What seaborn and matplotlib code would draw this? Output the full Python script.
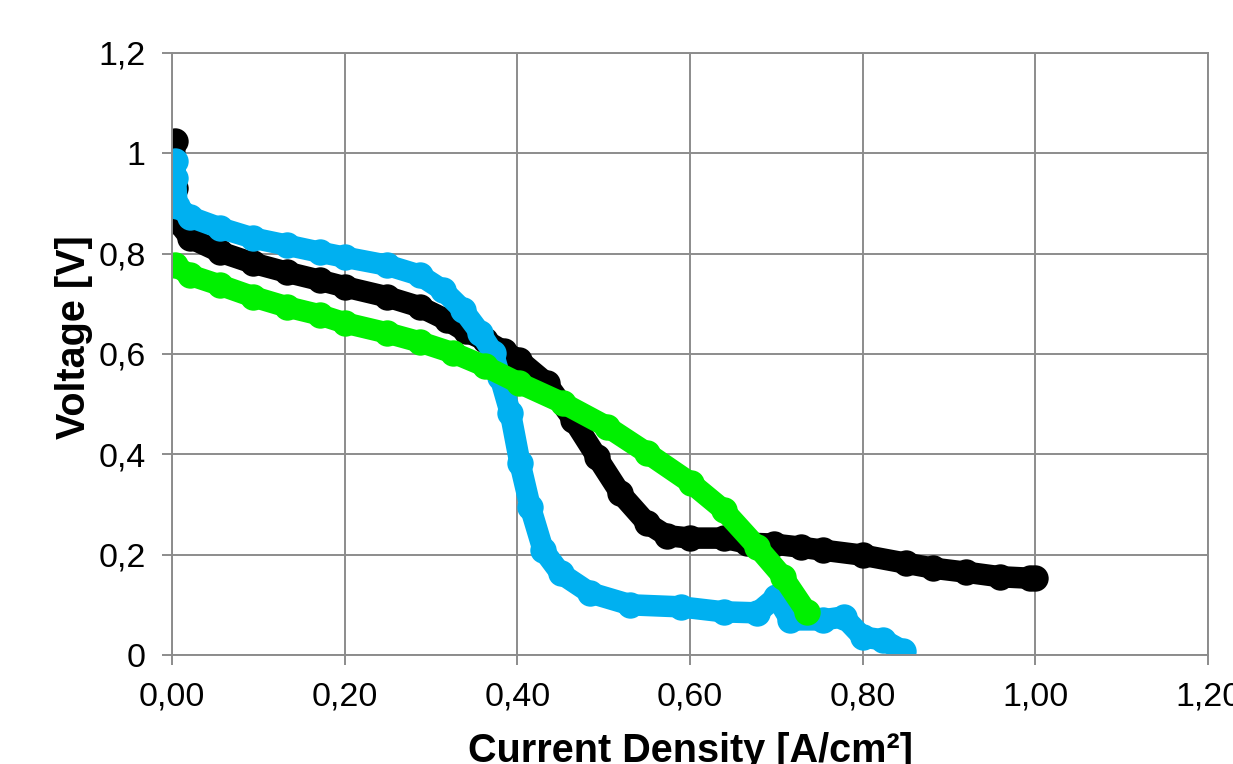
import pandas as pd
import matplotlib
matplotlib.use('Agg')
import matplotlib.pyplot as plt
import seaborn as sns
from matplotlib.ticker import FuncFormatter, MultipleLocator

# Polarisation curves (current density A/cm², voltage V)
black_x = [0.003, 0.004, 0.005, 0.021, 0.056, 0.094, 0.133, 0.171, 0.200, 0.249,
           0.287, 0.318, 0.340, 0.362, 0.384, 0.402, 0.434, 0.465, 0.492, 0.519,
           0.550, 0.573, 0.600, 0.639, 0.666, 0.697, 0.728, 0.754, 0.800, 0.850,
           0.882, 0.920, 0.959, 0.994, 1.000]
black_y = [1.025, 0.930, 0.866, 0.831, 0.803, 0.781, 0.763, 0.747, 0.734, 0.714,
           0.694, 0.668, 0.645, 0.628, 0.606, 0.588, 0.542, 0.468, 0.395, 0.323,
           0.263, 0.238, 0.233, 0.233, 0.223, 0.221, 0.215, 0.209, 0.199, 0.183,
           0.173, 0.165, 0.156, 0.153, 0.153]

blue_x = [0.003, 0.004, 0.006, 0.021, 0.056, 0.094, 0.133, 0.171, 0.200, 0.249,
          0.287, 0.314, 0.337, 0.357, 0.372, 0.380, 0.392, 0.403, 0.415, 0.430,
          0.450, 0.484, 0.531, 0.589, 0.639, 0.678, 0.700, 0.716, 0.754, 0.778,
          0.800, 0.824, 0.847]
blue_y = [0.985, 0.950, 0.895, 0.873, 0.851, 0.831, 0.817, 0.803, 0.793, 0.777,
          0.757, 0.727, 0.688, 0.642, 0.602, 0.554, 0.482, 0.383, 0.295, 0.209,
          0.163, 0.124, 0.100, 0.096, 0.086, 0.084, 0.116, 0.070, 0.070, 0.076,
          0.036, 0.030, 0.008]

green_x = [0.003, 0.021, 0.056, 0.094, 0.133, 0.171, 0.200, 0.249, 0.287, 0.326,
           0.362, 0.402, 0.453, 0.504, 0.550, 0.601, 0.639, 0.678, 0.708, 0.735]
green_y = [0.777, 0.757, 0.737, 0.714, 0.694, 0.678, 0.662, 0.642, 0.624, 0.602,
           0.576, 0.542, 0.502, 0.455, 0.403, 0.343, 0.289, 0.215, 0.155, 0.086]

series_names = ['black', 'blue', 'green']
series_colors = ['#000000', '#00B0F0', '#00F000']

# Long table for seaborn
frames = []
for name, xs, ys in zip(series_names,
                        [black_x, blue_x, green_x],
                        [black_y, blue_y, green_y]):
    frames.append(pd.DataFrame({'current': xs, 'voltage': ys, 'series': name}))
data = pd.concat(frames, ignore_index=True)

sns.set_theme(style='white')
plt.rcParams['font.family'] = ['Liberation Sans', 'DejaVu Sans']
plt.rcParams['text.color'] = 'black'
plt.rcParams['axes.labelcolor'] = 'black'

grid_color = '#8c8c8c'

fig = plt.figure(figsize=(12.33, 7.64), dpi=100)
ax = fig.add_axes([172 / 1233, 109 / 764, 1036 / 1233, 602 / 764])

sns.lineplot(data=data, x='current', y='voltage', hue='series',
             hue_order=series_names, palette=series_colors,
             sort=False, estimator=None, legend=False, ax=ax,
             marker='o', markeredgewidth=0)

# thick bands like the dense marker traces of the original
for line in ax.lines:
    line.set_linewidth(15.5)
    line.set_markersize(19)
    line.set_solid_capstyle('round')
    line.set_solid_joinstyle('round')

ax.set_xlim(0, 1.2)
ax.set_ylim(0, 1.2)
ax.xaxis.set_major_locator(MultipleLocator(0.2))
ax.yaxis.set_major_locator(MultipleLocator(0.2))
ax.xaxis.set_major_formatter(FuncFormatter(lambda v, p: f'{v:.2f}'.replace('.', ',')))
ax.yaxis.set_major_formatter(
    FuncFormatter(lambda v, p: f'{round(v, 1):g}'.replace('.', ',')))

ax.grid(True, color=grid_color, linewidth=1.4)
ax.set_axisbelow(True)
for side in ['left', 'right', 'top', 'bottom']:
    ax.spines[side].set_color(grid_color)
    ax.spines[side].set_linewidth(1.4)

ax.tick_params(axis='both', which='major', direction='out', length=7,
               width=1.4, color=grid_color, labelsize=24.5, labelcolor='black',
               pad=12, bottom=True, left=True)

ax.set_xlabel('Current Density [A/cm²]', fontsize=28.5, fontweight='bold',
              va='baseline')
ax.xaxis.set_label_coords(0.5, -0.178)
ax.set_ylabel('Voltage [V]', fontsize=28.5, fontweight='bold', va='center')
ax.yaxis.set_label_coords(-0.095, 0.528)

fig.savefig('out.png', dpi=100)
